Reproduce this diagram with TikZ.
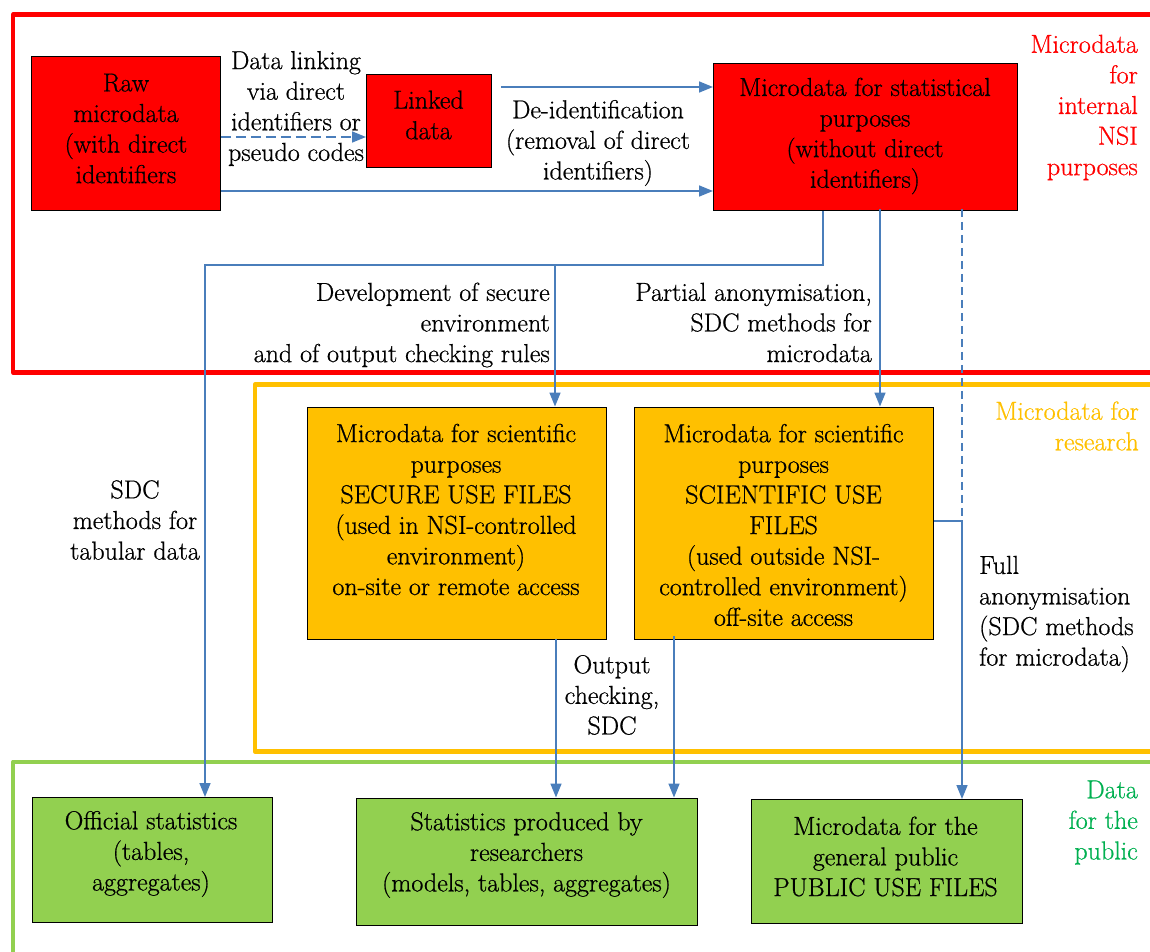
\documentclass[tikz,border=0pt]{standalone}
\usepackage{fontspec}
\newfontfamily\tms{Latin Modern Roman}[FakeBold=0.7]
\usetikzlibrary{arrows.meta}
\definecolor{myred}{HTML}{FF0000}
\definecolor{myorange}{HTML}{FFC000}
\definecolor{mygreen}{HTML}{92D050}
\definecolor{mygreentxt}{HTML}{00B050}
\definecolor{arrowblue}{HTML}{4A7EBB}
\newcommand{\fsz}{\tms\fontsize{26pt}{30.6pt}\selectfont}
\tikzset{
  box/.style={draw=black, line width=0.9pt, inner sep=0pt, anchor=north west},
  txt/.style={align=center, font=\fsz, inner sep=0pt},
  rtxt/.style={align=right, anchor=east, font=\fsz, inner sep=0pt},
  ltxt/.style={align=left, anchor=west, font=\fsz, inner sep=0pt},
  ln/.style={draw=arrowblue, line width=1.6pt},
  arr/.style={ln, -{Triangle[length=14pt,width=11pt]}},
  frame/.style={line width=4.5pt, line join=round}
}
\begin{document}
\begin{tikzpicture}[x=1pt,y=-1pt]
\useasboundingbox (0,0) rectangle (1150,952);
\begin{scope}
\clip (0,0) rectangle (1150,952);
\draw[frame, myred] (1180,14.5) -- (13.2,14.5) -- (13.2,372.5) -- (1180,372.5);
\draw[frame, myorange] (1180,384.7) -- (255,384.7) -- (255,751.5) -- (1180,751.5);
\draw[frame, mygreen, line width=4pt] (1180,761.5) -- (13.3,761.5) -- (13.3,990);
\end{scope}

% boxes
\node[box, fill=myred, minimum width=189pt, minimum height=154pt] (raw) at (31,56) {};
\node[box, fill=myred, minimum width=125pt, minimum height=93pt] (linked) at (366,74) {};
\node[box, fill=myred, minimum width=304pt, minimum height=147pt] (ms) at (713,63) {};
\node[box, fill=myorange, minimum width=299pt, minimum height=232pt] (secure) at (306.5,406.5) {};
\node[box, fill=myorange, minimum width=299pt, minimum height=232pt] (sci) at (634,406.5) {};
\node[box, fill=mygreen, minimum width=240pt, minimum height=125pt] (offs) at (31.5,797) {};
\node[box, fill=mygreen, minimum width=341pt, minimum height=127pt] (stats) at (356,797.5) {};
\node[box, fill=mygreen, minimum width=271pt, minimum height=124pt] (pub) at (750.5,799) {};

% box texts
\node[txt] (rawt) at (126,128.5) {Raw\\microdata\\(with direct\\identifiers};
\node[txt] (lkt) at (428.5,115) {Linked\\data};
\node[txt] (mst) at (865,136) {Microdata for statistical\\purposes\\(without direct\\identifiers)};
\node[txt] (sect) at (456,509.5) {Microdata for scientific\\purposes\\SECURE USE FILES\\(used in NSI-controlled\\environment)\\on-site or remote access};
\node[txt] (scit) at (783.5,525) {Microdata for scientific\\purposes\\SCIENTIFIC USE\\FILES\\(used outside NSI-\\controlled environment)\\off-site access};
\node[txt] (offt) at (151,854) {Official statistics\\(tables,\\aggregates)};
\node[txt] (statt) at (526.5,855) {Statistics produced by\\researchers\\(models, tables, aggregates)};
\node[txt] (pubt) at (885.5,856.5) {Microdata for the\\general public\\PUBLIC USE FILES};

% connector labels
\node[txt] (l1) at (296,108.5) {Data linking\\via direct\\identifiers or\\pseudo codes};
\node[txt] (l2) at (598,143) {De-identification\\(removal of direct\\identifiers)};
\node[rtxt] (l3) at (550,325) {Development of secure\\environment\\and of output checking rules};
\node[rtxt] (l4) at (872,322.5) {Partial anonymisation,\\SDC methods for\\microdata};
\node[txt] (l5) at (135,520) {SDC\\methods for\\tabular data};
\node[txt] (l6) at (612,695) {Output\\checking,\\SDC};
\node[ltxt] (l7) at (979,614) {Full\\anonymisation\\(SDC methods\\for microdata)};

% region labels
\node[rtxt, text=myred] (r1) at (1138,107.5) {Microdata\\for\\internal\\NSI\\purposes};
\node[rtxt, text=myorange] (r2) at (1139,426) {Microdata for\\research};
\node[rtxt, text=mygreentxt] (r3) at (1138,822.5) {Data\\for the\\public};

% coordinates
\coordinate (lk1) at ([xshift=9pt]linked.east);
\coordinate (j1) at (555,265);
\coordinate (j2) at (962,521);

% connectors
\draw[arr, dash pattern=on 10pt off 5pt] (raw.east |- 0,137) -- (linked.west |- 0,137);
\draw[arr] (lk1 |- 0,87) -- (ms.west |- 0,87);
\draw[arr] (raw.east |- 0,191) -- (ms.west |- 0,191);
\draw[arr] (ms.south -| 823,0) -- (823,265) -- (205,265) -- (offs.north -| 205,0);
\draw[arr] (j1) -- (secure.north -| j1);
\draw[arr] ([yshift=2pt]ms.south -| 880,0) -- (sci.north -| 880,0);
\draw[ln, dash pattern=on 8pt off 5pt] ([yshift=2pt]ms.south -| j2) -- (j2);
\draw[arr] (sci.east |- j2) -- (j2) -- (pub.north -| j2);
\draw[arr] (secure.south -| 556,0) -- (stats.north -| 556,0);
\draw[arr] ([yshift=3pt]sci.south -| 674,0) -- (stats.north -| 674,0);
\end{tikzpicture}
\end{document}
